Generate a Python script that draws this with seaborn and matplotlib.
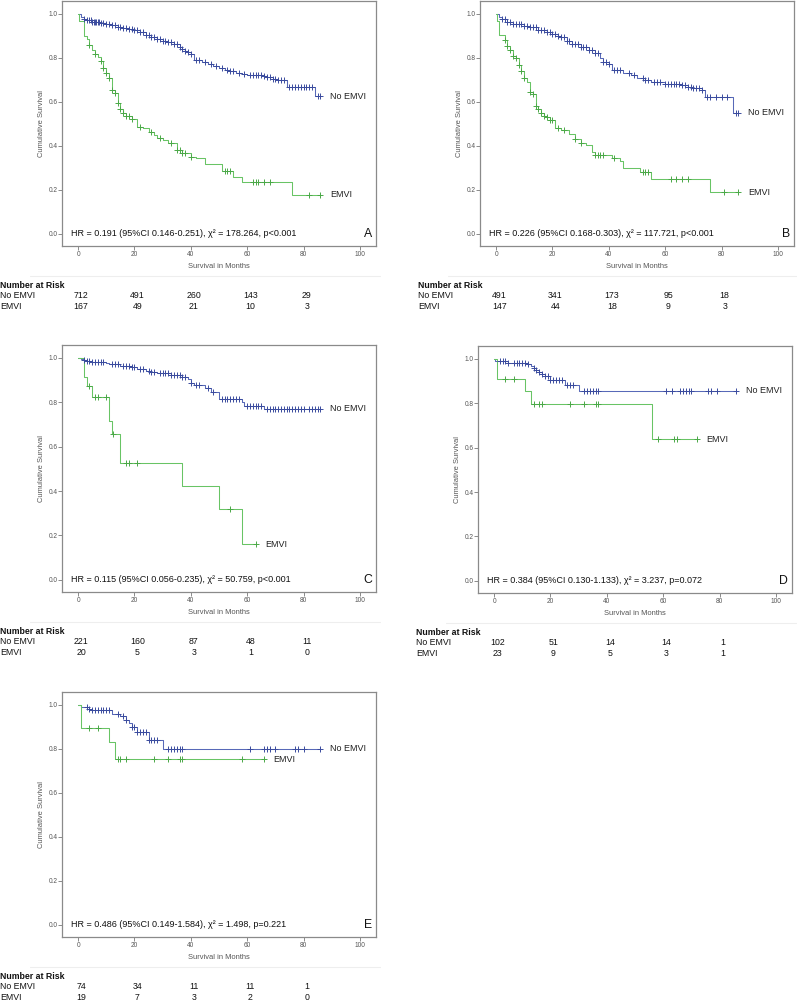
import numpy as np
import matplotlib
matplotlib.use("Agg")
import matplotlib.pyplot as plt
import matplotlib.transforms as mtransforms
import seaborn as sns

# ---- data ----
# each curve: step times, survival after each step, censor times
a_no_t = [0, 1, 2, 3, 5, 8, 10, 12, 14, 16, 18, 20, 22, 24, 26, 28, 30, 32, 34, 36, 37, 38, 39, 40,
          41, 44, 46, 48, 50, 52, 54, 56, 58, 60, 66, 67, 69, 71, 74, 84]
a_no_s = [1.0, 0.985, 0.975, 0.97, 0.962, 0.958, 0.953, 0.948, 0.942, 0.937, 0.932, 0.925, 0.915,
          0.905, 0.895, 0.885, 0.876, 0.87, 0.862, 0.85, 0.84, 0.832, 0.825, 0.818, 0.79, 0.78, 0.77,
          0.762, 0.752, 0.745, 0.74, 0.733, 0.727, 0.722, 0.718, 0.712, 0.705, 0.70, 0.668, 0.625]
a_no_c = [2, 3, 4, 4.5, 5, 5.5, 6, 6.5, 7, 7.5, 8, 9, 10, 11, 12, 13, 14, 15, 16, 17, 18, 19, 20, 21,
          22, 23, 24, 25, 26, 27, 28, 29, 30, 31, 32, 33, 34, 35, 36, 37, 38, 39, 40, 42, 43, 45, 47,
          49, 51, 53, 54, 55, 57, 59, 61, 62, 63, 64, 65, 66, 67, 68, 69, 70, 71, 72, 73, 75, 76, 77,
          78, 79, 80, 81, 82, 83, 85, 86]
a_em_t = [0, 0.5, 2, 3, 4, 5, 6, 7, 8, 9, 10, 11, 12, 13, 14, 15, 16, 17, 19, 21, 23, 25, 27, 28, 30,
          32, 35, 37, 40, 42, 45, 51, 55, 58, 76]
a_em_s = [1.0, 0.967, 0.90, 0.884, 0.86, 0.837, 0.815, 0.805, 0.784, 0.755, 0.73, 0.71, 0.653, 0.64,
          0.595, 0.568, 0.547, 0.535, 0.524, 0.486, 0.479, 0.464, 0.449, 0.437, 0.426, 0.414, 0.38,
          0.369, 0.35, 0.343, 0.316, 0.287, 0.26, 0.236, 0.178]
a_em_c = [4, 6, 8, 9, 10, 11, 12, 13, 14, 15, 16, 17, 18, 19, 22, 26, 29, 33, 35, 36, 37, 38, 40,
          52, 53, 54, 62, 63, 64, 66, 68, 82, 86]

b_no_t = [0, 1, 2, 4, 6, 10, 12, 15, 18, 20, 22, 23, 25, 27, 30, 33, 35, 37, 38, 40, 41, 45, 48, 50,
          53, 55, 60, 66, 68, 70, 73, 74, 84]
b_no_s = [1.0, 0.985, 0.975, 0.962, 0.952, 0.946, 0.938, 0.925, 0.916, 0.908, 0.90, 0.893, 0.878,
          0.864, 0.847, 0.836, 0.82, 0.797, 0.783, 0.77, 0.743, 0.731, 0.72, 0.71, 0.70, 0.692, 0.683,
          0.676, 0.668, 0.663, 0.653, 0.62, 0.55]
b_no_c = [2, 3, 4, 5, 6, 7, 8, 9, 10, 11, 12, 13, 14, 15, 16, 17, 18, 19, 20, 21, 22, 23, 24, 25, 26,
          27, 28, 29, 30, 31, 32, 33, 34, 35, 36, 38, 39, 40, 42, 43, 44, 47, 49, 52, 53, 54, 56, 57,
          58, 60, 61, 62, 63, 64, 65, 66, 67, 68, 69, 70, 71, 72, 73, 75, 76, 78, 80, 82, 85, 86]
b_em_t = [0, 0.5, 1, 3, 4, 5, 6, 7, 8, 9, 10, 11, 12, 13, 14, 15, 16, 17, 18, 19, 21, 23, 26, 28, 30,
          32, 34, 35, 41, 44, 45, 51, 55, 76]
b_em_s = [1.0, 0.965, 0.905, 0.88, 0.853, 0.837, 0.81, 0.797, 0.769, 0.74, 0.71, 0.69, 0.645, 0.635,
          0.583, 0.566, 0.547, 0.537, 0.529, 0.517, 0.48, 0.47, 0.452, 0.429, 0.414, 0.403, 0.373,
          0.358, 0.343, 0.333, 0.30, 0.279, 0.249, 0.189]
b_em_c = [3, 4, 5, 6, 7, 8, 9, 10, 12, 13, 14, 15, 16, 17, 18, 19, 20, 22, 24, 28, 30, 35, 36, 37,
          38, 42, 52, 53, 54, 62, 64, 66, 68, 81, 86]

c_no_t = [0, 1, 2, 3, 5, 10, 11, 15, 19, 21, 24, 26, 28, 33, 37, 39, 40, 41, 45, 47, 50, 58, 59, 66]
c_no_s = [1.0, 0.993, 0.99, 0.985, 0.982, 0.976, 0.971, 0.962, 0.957, 0.95, 0.943, 0.938, 0.93,
          0.924, 0.915, 0.903, 0.888, 0.876, 0.862, 0.846, 0.816, 0.80, 0.785, 0.77]
c_no_c = [2, 3, 4, 5, 6, 7, 8, 9, 12, 13, 14, 16, 17, 18, 19, 20, 22, 23, 25, 26, 27, 29, 30, 31, 32,
          33, 34, 35, 36, 37, 38, 40, 42, 43, 46, 48, 51, 52, 53, 54, 55, 56, 57, 60, 61, 62, 63, 64,
          65, 67, 68, 69, 70, 71, 72, 73, 74, 75, 76, 77, 78, 79, 80, 82, 83, 84, 85, 86]
c_em_t = [0, 2, 3, 5, 11, 12, 15, 37, 50, 58]
c_em_s = [1.0, 0.915, 0.873, 0.825, 0.716, 0.657, 0.526, 0.423, 0.317, 0.16]
c_em_c = [4, 6, 7, 10, 12.3, 17, 18, 21, 54, 63]

d_no_t = [0, 0.5, 5, 12, 13, 14, 15, 16, 17, 18, 20, 25, 30]
d_no_s = [1.0, 0.99, 0.98, 0.975, 0.967, 0.958, 0.948, 0.939, 0.931, 0.921, 0.906, 0.882, 0.857]
d_no_c = [2, 3, 4, 5, 7, 8, 9, 10, 11, 12, 14, 15, 16, 17, 18, 19, 20, 21, 22, 23, 24, 26, 27, 28,
          32, 33, 34, 35, 36, 37, 61, 63, 66, 67, 68, 69, 70, 76, 77, 79, 86]
d_em_t = [0, 1, 11, 13, 56]
d_em_s = [1.0, 0.911, 0.856, 0.797, 0.638]
d_em_c = [4, 7, 14, 16, 17, 27, 32, 36, 37, 58, 64, 65, 72]

e_no_t = [0, 1, 4, 5, 12, 15, 17, 18, 19, 21, 25, 30]
e_no_s = [1.0, 0.989, 0.981, 0.974, 0.959, 0.947, 0.932, 0.917, 0.899, 0.877, 0.842, 0.80]
e_no_c = [3, 4, 5, 6, 7, 8, 9, 10, 11, 14, 16, 17, 19, 20, 21, 22, 23, 24, 25, 26, 27, 28, 32, 33,
          34, 35, 36, 37, 61, 66, 67, 68, 70, 77, 78, 80, 86]
e_em_t = [0, 1, 11, 13]
e_em_s = [1.0, 0.896, 0.832, 0.752]
e_em_c = [4, 7, 14, 15, 17, 27, 32, 36, 37, 58, 66]

risk_times = [0, 20, 40, 60, 80]
a_risk_no = [712, 491, 260, 143, 29]
a_risk_em = [167, 49, 21, 10, 3]
b_risk_no = [491, 341, 173, 95, 18]
b_risk_em = [147, 44, 18, 9, 3]
c_risk_no = [221, 160, 87, 48, 11]
c_risk_em = [20, 5, 3, 1, 0]
d_risk_no = [102, 51, 14, 14, 1]
d_risk_em = [23, 9, 5, 3, 1]
e_risk_no = [74, 34, 11, 11, 1]
e_risk_em = [19, 7, 3, 2, 0]

stats_text = [
    "HR = 0.191 (95%CI 0.146-0.251), χ² = 178.264, p<0.001",
    "HR = 0.226 (95%CI 0.168-0.303), χ² = 117.721, p<0.001",
    "HR = 0.115 (95%CI 0.056-0.235), χ² = 50.759, p<0.001",
    "HR = 0.384 (95%CI 0.130-1.133), χ² = 3.237, p=0.072",
    "HR = 0.486 (95%CI 0.149-1.584), χ² = 1.498, p=0.221",
]
panel_letters = ["A", "B", "C", "D", "E"]
group_names = ["No EMVI", "EMVI"]

# ---- layout (pixel boxes: left, top, right, bottom) ----
W, H = 797, 1002
boxes = [(62, 1, 376, 246), (480, 1, 794, 246), (62, 345, 376, 592),
         (478, 346, 792, 593), (62, 692, 376, 937)]

panels = [
    ((a_no_t, a_no_s, a_no_c), (a_em_t, a_em_s, a_em_c), a_risk_no, a_risk_em),
    ((b_no_t, b_no_s, b_no_c), (b_em_t, b_em_s, b_em_c), b_risk_no, b_risk_em),
    ((c_no_t, c_no_s, c_no_c), (c_em_t, c_em_s, c_em_c), c_risk_no, c_risk_em),
    ((d_no_t, d_no_s, d_no_c), (d_em_t, d_em_s, d_em_c), d_risk_no, d_risk_em),
    ((e_no_t, e_no_s, e_no_c), (e_em_t, e_em_s, e_em_c), e_risk_no, e_risk_em),
]

# line colour / censor-mark colour
BLUE_LINE, BLUE_MARK = "#5869b8", "#3a4b9e"
GREEN_LINE, GREEN_MARK = "#68c465", "#4aa847"

sns.set_theme(style="white")
plt.rcParams["font.family"] = ["Liberation Sans", "DejaVu Sans"]

fig = plt.figure(figsize=(W / 100, H / 100), dpi=100)


def draw_curve(ax, times, surv, cens, line_color, mark_color):
    end = max(max(cens), times[-1])
    xs = list(times) + [end]
    ys = list(surv) + [surv[-1]]
    sns.lineplot(x=xs, y=ys, ax=ax, color=line_color, linewidth=0.75,
                 drawstyle="steps-post", estimator=None, sort=False)
    idx = np.searchsorted(times, cens, side="right") - 1
    cy = np.asarray(surv)[idx]
    sns.scatterplot(x=cens, y=cy, ax=ax, marker="+", color=mark_color, s=16, linewidth=0.7, zorder=3)
    return end, surv[-1]


for i, (box, (no_grp, em_grp, risk_no, risk_em)) in enumerate(zip(boxes, panels)):
    l, t, r, b = box
    ax = fig.add_axes([l / W, 1 - b / H, (r - l) / W, (b - t) / H])
    for grp, lc, mc, name in [(no_grp, BLUE_LINE, BLUE_MARK, group_names[0]),
                              (em_grp, GREEN_LINE, GREEN_MARK, group_names[1])]:
        x_end, y_end = draw_curve(ax, *grp, lc, mc)
        ax.text(x_end + 3.4, y_end, name, fontsize=6.5, color="#222222", ha="left", va="center")

    ax.set_xlim(-5.7, 105.7)
    ax.set_ylim(-0.055, 1.058)
    ax.set_xticks(risk_times + [100])
    ax.set_yticks([0, 0.2, 0.4, 0.6, 0.8, 1.0])
    ax.set_xticklabels([str(v) for v in risk_times + [100]])
    ax.set_yticklabels(["0.0", "0.2", "0.4", "0.6", "0.8", "1.0"])
    ax.tick_params(axis="both", labelsize=4.7, labelcolor="#555555", length=2.8,
                   width=0.6, color="#777777", direction="out", left=True, bottom=True)
    ax.tick_params(axis="x", pad=0.8)
    ax.tick_params(axis="y", pad=0.3)
    for sp in ax.spines.values():
        sp.set_color("#8a8a8a")
        sp.set_linewidth(0.9)
    ax.set_xlabel("Survival in Months", fontsize=5.4, color="#555555", labelpad=3.5)
    ax.set_ylabel("Cumulative Survival", fontsize=5.4, color="#555555", labelpad=3.0)

    ax.text(-2.5, 0.0, stats_text[i], fontsize=6.5, color="#111111", ha="left", va="center")
    ax.text(104.2, 0.0, panel_letters[i], fontsize=8.8, color="#111111", ha="right", va="center")

    # number at risk table
    fy = lambda py: 1 - py / H
    fig.add_artist(plt.Line2D([(l - 32) / W, (r + 4) / W], [fy(b + 30), fy(b + 30)],
                              color="#eeeeee", linewidth=0.8))
    lx = (l - 62) / W
    fig.text(lx, fy(b + 39.5), "Number at Risk", fontsize=6.3, fontweight="bold",
             color="#111111", ha="left", va="center")
    fig.text(lx, fy(b + 49.5), group_names[0], fontsize=6.3, color="#111111", ha="left", va="center")
    fig.text(lx, fy(b + 60.5), group_names[1], fontsize=6.3, color="#111111", ha="left", va="center")
    trans = mtransforms.blended_transform_factory(ax.transData, fig.transFigure)
    for tt, n_no, n_em in zip(risk_times, risk_no, risk_em):
        ax.text(tt + 1.1, fy(b + 49.5), str(n_no), transform=trans, fontsize=6.3,
                color="#111111", ha="center", va="center", clip_on=False)
        ax.text(tt + 1.1, fy(b + 60.5), str(n_em), transform=trans, fontsize=6.3,
                color="#111111", ha="center", va="center", clip_on=False)

fig.savefig("out.png", dpi=100, facecolor="white")
